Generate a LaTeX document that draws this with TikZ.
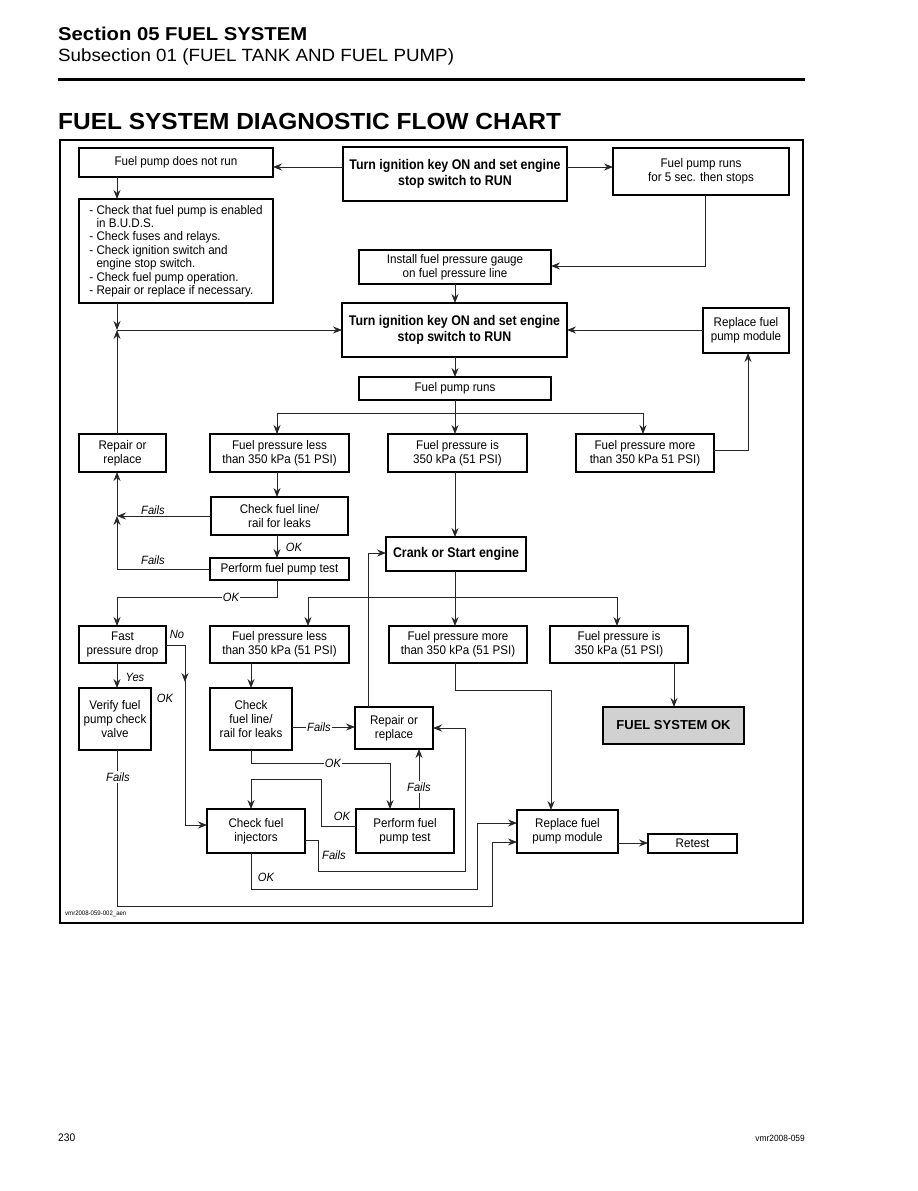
\documentclass[tikz,border=0pt]{standalone}
\usepackage{fontspec}
\setmainfont{Liberation Sans}[FakeStretch=0.93]
\newfontfamily\bfnt{Liberation Sans}[FakeStretch=0.885]
\newfontfamily\hfnt{Liberation Sans}
\usetikzlibrary{arrows.meta}
\newcommand\bx[7]{%
  \pgfmathsetmacro\bxw{#4-#2}%
  \pgfmathsetmacro\bxh{#5-#3}%
  \pgfmathsetmacro\bxx{(#2+#4)/2}%
  \pgfmathsetmacro\bxy{(#3+#5)/2}%
  \node[box,#6,minimum width=\bxw pt,minimum height=\bxh pt] (#1) at (\bxx,\bxy) {#7};}
\begin{document}
\begin{tikzpicture}[x=1pt,y=-1pt,
  box/.style={draw, line width=1.1pt, inner sep=0pt, outer sep=0pt, align=center, font=\fontsize{12.5}{14}\selectfont},
  tbox/.style={line width=2.2pt, font=\fontsize{14}{15.5}\bfnt\bfseries\selectfont},
  ln/.style={line width=0.8pt, draw=black!85},
  ar/.style={ln, -{Stealth[length=9pt,width=7pt,inset=3pt]}},
  lab/.style={font=\fontsize{12}{13}\itshape\selectfont, inner sep=1.2pt},
  wlab/.style={lab, fill=white},
]
\useasboundingbox (0,0) rectangle (918,1191);
\fill[white] (0,0) rectangle (918,1191);

% header
\node[anchor=base west, inner sep=0pt] (sec) at (58,40.7)
  {\scalebox{1.09}[1]{\fontsize{18.6}{20}\hfnt\bfseries\selectfont Section 05 FUEL SYSTEM}};
\node[anchor=base west, inner sep=0pt] (subsec) at (58,61.3)
  {\scalebox{1.06}[1]{\fontsize{17.7}{19}\hfnt\selectfont Subsection 01 (FUEL TANK AND FUEL PUMP)}};
\draw[line width=3pt] (58,79) -- (805,79);
\node[anchor=base west, inner sep=0pt] (title) at (58,129.7)
  {\scalebox{1.05}[1]{\fontsize{23.3}{25}\hfnt\bfseries\selectfont FUEL SYSTEM DIAGNOSTIC FLOW CHART}};

% frame
\draw[line width=1.4pt] (60,140) rectangle (803,923);

% boxes
\bx{n1}{79}{148}{273}{177}{}{Fuel pump does not run}
\bx{n2}{343}{147}{567}{201}{tbox}{Turn ignition key ON and set engine\\stop switch to RUN}
\bx{n3}{613}{148}{789}{195}{}{Fuel pump runs\\for 5 sec. then stops}
\bx{n4}{79}{199}{273}{303}{align=left, font=\fontsize{12.5}{13.4}\selectfont}{%
   - Check that fuel pump is enabled\\
   \phantom{- }in B.U.D.S.\\
   - Check fuses and relays.\\
   - Check ignition switch and\\
   \phantom{- }engine stop switch.\\
   - Check fuel pump operation.\\
   - Repair or replace if necessary.}
\bx{n5}{359}{250}{551}{284}{}{Install fuel pressure gauge\\on fuel pressure line}
\bx{n6}{342}{303}{567}{357}{tbox}{Turn ignition key ON and set engine\\stop switch to RUN}
\bx{n7}{703}{308}{789}{353}{}{Replace fuel\\pump module}
\bx{n8}{359}{377}{551}{400}{}{Fuel pump runs}
\bx{n9}{79}{434}{166}{472}{}{Repair or\\replace}
\bx{n10}{210}{434}{349}{472}{}{Fuel pressure less\\than 350 kPa (51 PSI)}
\bx{n11}{388}{434}{527}{472}{}{Fuel pressure is\\350 kPa (51 PSI)}
\bx{n12}{576}{434}{714}{472}{}{Fuel pressure more\\than 350 kPa 51 PSI)}
\bx{n13}{211}{497}{348}{535}{}{Check fuel line/\\rail for leaks}
\bx{n14}{210}{558}{349}{580}{}{Perform fuel pump test}
\bx{n15}{386}{537}{526}{571}{tbox}{Crank or Start engine}
\bx{n16}{79}{626}{166}{663}{}{Fast\\pressure drop}
\bx{n17}{210}{626}{349}{663}{}{Fuel pressure less\\than 350 kPa (51 PSI)}
\bx{n18}{389}{626}{527}{663}{}{Fuel pressure more\\than 350 kPa (51 PSI)}
\bx{n19}{550}{626}{688}{663}{}{Fuel pressure is\\350 kPa (51 PSI)}
\bx{n20}{79}{688}{151}{750}{}{Verify fuel\\pump check\\valve}
\bx{n21}{210}{688}{292}{750}{}{Check\\fuel line/\\rail for leaks}
\bx{n22}{355}{707}{433}{749}{}{Repair or\\replace}
\bx{n23}{603}{707}{744}{744}{fill=black!18, line width=2pt, font=\fontsize{13}{14}\hfnt\bfseries\selectfont}{FUEL SYSTEM OK}
\bx{n24}{207}{809}{305}{853}{}{Check fuel\\injectors}
\bx{n25}{356}{809}{454}{853}{}{Perform fuel\\pump test}
\bx{n26}{517}{810}{618}{853}{}{Replace fuel\\pump module}
\bx{n27}{648}{834}{737}{853}{}{Retest}

% helper coordinates
\coordinate (j1) at (117,330);
\coordinate (s1) at (455,413);
\coordinate (j2) at (117,516);
\coordinate (s2) at (455,597);

% connectors: top part
\draw[ar] (n2.west |- 0,167) -- (n1.east |- 0,167);
\draw[ar] (n2.east |- 0,167) -- (n3.west |- 0,167);
\draw[ar] (n1.south -| 117,0) -- (n4.north -| 117,0);
\draw[ar] (n3.south -| 705,0) |- (n5.east |- 0,266);
\draw[ar] (n5.south -| 455,0) -- (n6.north -| 455,0);
\draw[ar] (n4.south -| j1) -- (j1);
\draw[ar] (n9.north -| j1) -- (j1);
\draw[ar] (j1) -- (n6.west |- j1);
\draw[ar] (n7.west |- 0,330) -- (n6.east |- 0,330);
\draw[ar] (n12.east |- 0,450) -| (n7.south -| 748,0);
\draw[ar] (n6.south -| 455,0) -- (n8.north -| 455,0);
\draw[ar] (n8.south -| s1) -- (n11.north -| s1);
\draw[ar] (s1) -| (n10.north -| 277,0);
\draw[ar] (s1) -| (n12.north -| 643,0);

% left column middle
\draw[ar] (n10.south -| 277,0) -- (n13.north -| 277,0);
\draw[ar] (n13.west |- j2) -- (j2);
\draw[ar] (n14.west) -| (j2);
\draw[ar] (j2) -- (n9.south -| j2);
\node[lab] (lf1) at (153,510) {Fails};
\node[lab] (lf2) at (153,560) {Fails};
\draw[ar] (n13.south -| 277,0) -- (n14.north -| 277,0);
\node[lab] (lok1) at (294,547) {OK};
\draw[ar] (n11.south -| 455,0) -- (n15.north -| 455,0);

% second level
\draw[ar] (n14.south -| 277,0) |- (117,597) -- (n16.north -| 117,0);
\node[wlab] (lok2) at (231,597) {OK};
\draw[ar] (n15.south -| s2) -- (n18.north -| s2);
\draw[ar] (s2) -| (n17.north -| 308,0);
\draw[ar] (s2) -| (n19.north -| 617,0);
\draw[ar] (n22.north -| 368,0) |- (n15.west |- 0,553);

% bottom part
\draw[ar] (n16.south -| 117,0) -- (n20.north -| 117,0);
\node[lab] (lyes) at (135,677) {Yes};
\draw[ar] (n16.east |- 0,645) -| (185,682);
\draw[ar] (185,680) |- (n24.west |- 0,825);
\node[lab] (lno) at (177,634) {No};
\node[lab] (lok3) at (165,698) {OK};
\draw[ar] (n17.south -| 251,0) -- (n21.north -| 251,0);
\draw[ar] (n21.east |- 0,727) -- (n22.west |- 0,727);
\node[wlab] (lf3) at (319,727) {Fails};
\draw[ar] (n21.south -| 251,0) |- (390,763) -- (n25.north -| 390,0);
\node[wlab] (lok4) at (333,763) {OK};
\draw[ar] (n25.north -| 419,0) -- (n22.south -| 419,0);
\node[wlab] (lf4) at (419,787) {Fails};
\draw[ar] (n25.west |- 0,826) -| (321,779) -| (n24.north -| 251,0);
\node[lab] (lok5) at (342,816) {OK};
\draw[ar] (n24.east |- 0,840) -| (318,871) -| (465,728) -- (n22.east |- 0,728);
\node[lab] (lf5) at (334,855) {Fails};
\draw[ar] (n24.south -| 251,0) |- (477,889) |- (n26.west |- 0,823);
\node[lab] (lok6) at (266,877) {OK};
\draw[ar] (n20.south -| 117,0) |- (492,906) |- (n26.west |- 0,842);
\node[wlab] (lf6) at (118,777) {Fails};
\draw[ar] (n18.south -| 455,0) |- (551,690) -- (n26.north -| 551,0);
\draw[ar] (n19.south -| 674,0) -- (n23.north -| 674,0);
\draw[ar] (n26.east |- 0,843) -- (n27.west |- 0,843);

% footers
\node[anchor=west, inner sep=0pt, font=\fontsize{6.5}{7}\selectfont] (code) at (65,914) {vmr2008-059-002\_aen};
\node[anchor=base west, inner sep=0pt, font=\fontsize{11}{12}\selectfont] (page) at (58,1141) {230};
\node[anchor=base east, inner sep=0pt, font=\fontsize{9}{10}\selectfont] (ref) at (805,1141) {vmr2008-059};
\end{tikzpicture}
\end{document}
